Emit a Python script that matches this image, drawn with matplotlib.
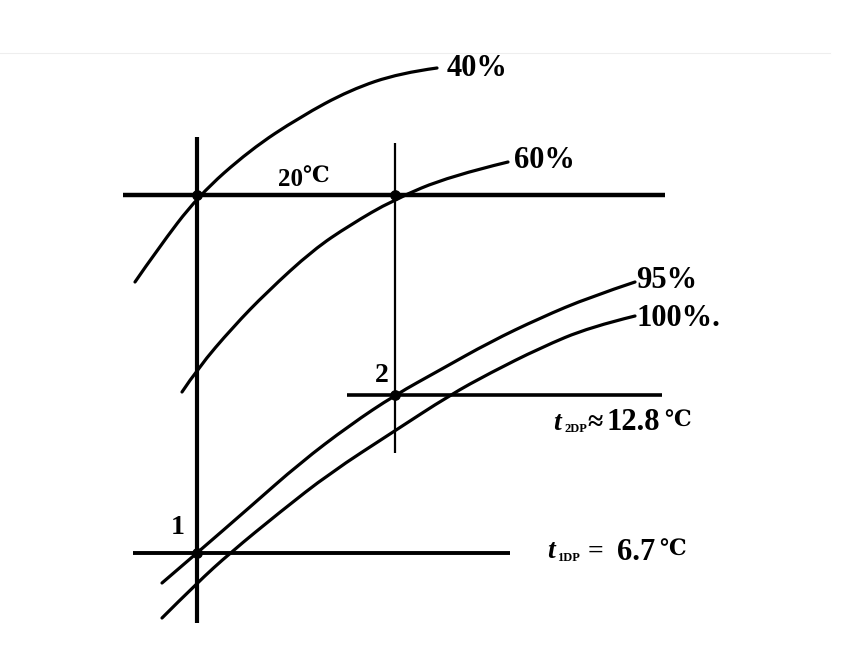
import matplotlib
matplotlib.use('agg')
import matplotlib.pyplot as plt
from matplotlib.path import Path
from matplotlib.patches import PathPatch

# schematic psychrometric sketch, coordinates (px, y down)
rh40_x = [135, 157, 198, 250, 300, 350, 400, 437]
rh40_y = [282, 250, 196, 150, 117, 90, 73, 68]

rh60_x = [182, 198, 233, 267, 313, 350, 393, 450, 508]
rh60_y = [392, 368, 327, 292, 250, 225, 200, 176, 162]

rh95_x = [162, 197, 250, 300, 350, 395, 440, 490, 540, 590, 635]
rh95_y = [583, 553, 507, 463, 425, 395, 370, 342, 318, 297, 282]

rh100_x = [162, 197, 230, 280, 330, 393, 450, 490, 540, 590, 635]
rh100_y = [618, 583, 553, 512, 473, 432, 395, 373, 348, 327, 316]

curve_labels = ['40%', '60%', '95%', '100%.']

# state lines
v1_x, v1_y = 197, (137, 623)
v2_x, v2_y = 395, (143, 453)
h20_y, h20_x = 195, (123, 665)
h2_y, h2_x = 395, (347, 662)
h1_y, h1_x = 553, (133, 510)

dots_x = [197, 395, 395, 197]
dots_y = [195, 195, 395, 553]

FONT = ['Liberation Serif', 'DejaVu Serif', 'DejaVu Sans']

fig = plt.figure(figsize=(8.5, 6.63), dpi=100)
ax = fig.add_axes([0, 0, 1, 1])
ax.set_xlim(0, 850)
ax.set_ylim(663, 0)
ax.axis('off')

# faint scan edge at top
ax.plot([0, 830], [53, 53], color='#eeeeee', lw=0.8)


def smooth_curve(xs, ys):
    # quadratic bezier through the midpoints of the read points
    pts = list(zip(xs, ys))
    verts = [pts[0]]
    codes = [Path.MOVETO]
    for i in range(1, len(pts) - 1):
        mid = ((pts[i][0] + pts[i + 1][0]) / 2, (pts[i][1] + pts[i + 1][1]) / 2)
        if i == len(pts) - 2:
            mid = pts[-1]
        verts += [pts[i], mid]
        codes += [Path.CURVE3, Path.CURVE3]
    ax.add_patch(PathPatch(Path(verts, codes), fill=False, color='black',
                           lw=2.3, capstyle='round'))


smooth_curve(rh40_x, rh40_y)
smooth_curve(rh60_x, rh60_y)
smooth_curve(rh95_x, rh95_y)
smooth_curve(rh100_x, rh100_y)

ax.vlines(v1_x, *v1_y, color='black', lw=3.0)
ax.vlines(v2_x, *v2_y, color='black', lw=1.6)
ax.hlines(h20_y, *h20_x, color='black', lw=3.2)
ax.hlines(h2_y, *h2_x, color='black', lw=2.6)
ax.hlines(h1_y, *h1_x, color='black', lw=2.8)

ax.scatter(dots_x, dots_y, s=45, color='black', zorder=3)


def label(x, y, s, size=21, **kw):
    ax.text(x, y, s, fontsize=size, fontweight='bold', family=FONT,
            va='center', ha='left', **kw)


label(447, 68, curve_labels[0], size=22)
label(514, 161, curve_labels[1], size=22)
label(636, 281, curve_labels[2], size=22)
label(637, 318, curve_labels[3], size=22)

label(278, 179, '20', size=18)
label(302, 178, '℃', size=16)
ax.text(382, 376, '2', fontsize=20, fontweight='bold', family=FONT,
        va='center', ha='center')
ax.text(178, 528, '1', fontsize=20, fontweight='bold', family=FONT,
        va='center', ha='center')

# dew point labels: t with a small subscript
label(553, 423, 't', size=20, style='italic')
label(565, 429, '2DP', size=9)
label(587, 423, '≈', size=20)
label(607, 423, '12.8', size=22)
label(664, 422, '℃', size=16)

label(547, 552, 't', size=20, style='italic')
label(557, 558, '1DP', size=9)
label(588, 552, '=', size=20)
label(617, 552, '6.7', size=22)
label(659, 551, '℃', size=16)

fig.savefig('out.png', dpi=100)
